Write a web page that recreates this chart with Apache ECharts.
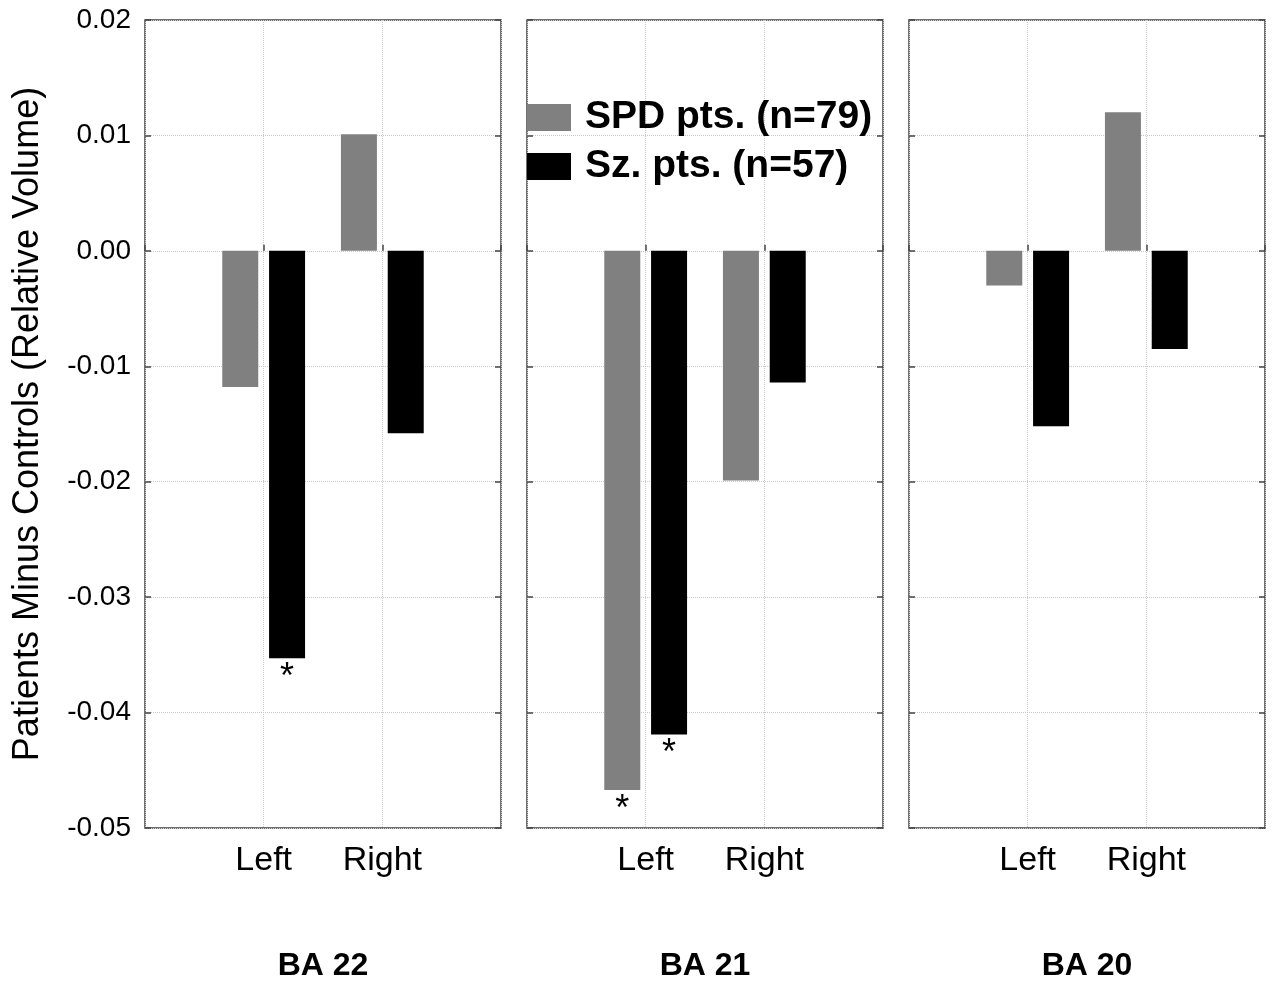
<!DOCTYPE html>
<html>
<head>
<meta charset="utf-8">
<script src="https://cdn.jsdelivr.net/npm/echarts@6/dist/echarts.min.js"></script>
<style>
  html, body { margin: 0; padding: 0; background: #fff; }
  #chart { width: 1272px; height: 982px; }
</style>
</head>
<body>
<div id="chart"></div>
<script>
// regions (one panel each) and the two hemispheres
const regions = ['BA 22', 'BA 21', 'BA 20'];
const sides = ['', 'Left', 'Right', ''];
// patients minus controls, [Left, Right] per region
const spdValues = [[-0.0118, 0.0101], [-0.0467, -0.0199], [-0.0030, 0.0120]];
const szValues = [[-0.0353, -0.0158], [-0.0419, -0.0114], [-0.0152, -0.0085]];
// significant differences (asterisk)
const spdStars = [[false, false], [true, false], [false, false]];
const szStars = [[true, false], [true, false], [false, false]];
const yTicks = [-0.05, -0.04, -0.03, -0.02, -0.01, 0.00, 0.01, 0.02];

const font = '"Liberation Sans", Arial, sans-serif';
const panelLeft = [145, 527, 909];
const borderColor = '#444';

function barData(values, stars) {
    let out = [null];
    values.forEach((v, i) => {
        if (stars[i]) {
            out.push({
                value: v,
                label: {
                    show: true, position: 'bottom', distance: 2, formatter: '*',
                    fontFamily: font, fontSize: 36, color: '#000'
                }
            });
        } else {
            out.push(v);
        }
    });
    out.push(null);
    return out;
}

let grid = [], xAxis = [], yAxis = [], series = [];
regions.forEach((name, i) => {
    grid.push({
        left: panelLeft[i], width: 356, top: 20, height: 808,
        outerBoundsMode: 'none',
        show: true, borderColor: borderColor, borderWidth: 1.5
    });
    xAxis.push({
        type: 'category', gridIndex: i, data: sides, boundaryGap: false,
        axisLine: {show: false},
        axisTick: {show: true, inside: true, length: 6, lineStyle: {color: borderColor, width: 1.5}},
        axisLabel: {fontFamily: font, fontSize: 34, color: '#000', margin: 16},
        splitLine: {show: true, lineStyle: {color: '#c8c8c8', type: 'dotted', width: 1}},
        name: name, nameLocation: 'middle', nameGap: 122,
        nameTextStyle: {fontFamily: font, fontSize: 32, fontWeight: 'bold', color: '#000'}
    });
    yAxis.push({
        type: 'value', gridIndex: i, min: -0.05, max: 0.02, interval: 0.01,
        axisLine: {show: false},
        axisTick: {show: true, inside: true, length: 6, lineStyle: {color: borderColor, width: 1.5}},
        axisLabel: {
            show: i === 0, fontFamily: font, fontSize: 28, color: '#000', margin: 14,
            formatter: v => yTicks.reduce((a, b) => Math.abs(b - v) < Math.abs(a - v) ? b : a).toFixed(2)
        },
        splitLine: {show: true, lineStyle: {color: '#c8c8c8', type: 'dotted', width: 1}},
        name: i === 0 ? 'Patients Minus Controls (Relative Volume)' : '',
        nameLocation: 'middle', nameGap: 99,
        nameTextStyle: {fontFamily: font, fontSize: 36, color: '#000'}
    });
    yAxis.push({
        type: 'value', gridIndex: i, min: -0.05, max: 0.02, interval: 0.01,
        position: 'right',
        axisLine: {show: false},
        axisTick: {show: true, inside: true, length: 6, lineStyle: {color: borderColor, width: 1.5}},
        axisLabel: {show: false},
        splitLine: {show: false}
    });
    series.push({
        name: 'SPD pts. (n=79)', type: 'bar', xAxisIndex: i, yAxisIndex: i * 2,
        data: barData(spdValues[i], spdStars[i]),
        barWidth: 36, barGap: '30%',
        itemStyle: {color: '#808080'}
    });
    series.push({
        name: 'Sz. pts. (n=57)', type: 'bar', xAxisIndex: i, yAxisIndex: i * 2,
        data: barData(szValues[i], szStars[i]),
        barWidth: 36, barGap: '30%',
        itemStyle: {color: '#000'}
    });
});

let chart = echarts.init(document.getElementById('chart'));
chart.setOption({
    animation: false,
    backgroundColor: '#fff',
    legend: {
        data: ['SPD pts. (n=79)', 'Sz. pts. (n=57)'],
        orient: 'vertical', left: 527, top: 98, padding: 0,
        itemWidth: 44, itemHeight: 27, itemGap: 10, icon: 'rect',
        textStyle: {fontFamily: font, fontSize: 39, fontWeight: 'bold', color: '#000', padding: [0, 0, 0, 9]}
    },
    grid: grid,
    xAxis: xAxis,
    yAxis: yAxis,
    series: series
});
</script>
</body>
</html>
